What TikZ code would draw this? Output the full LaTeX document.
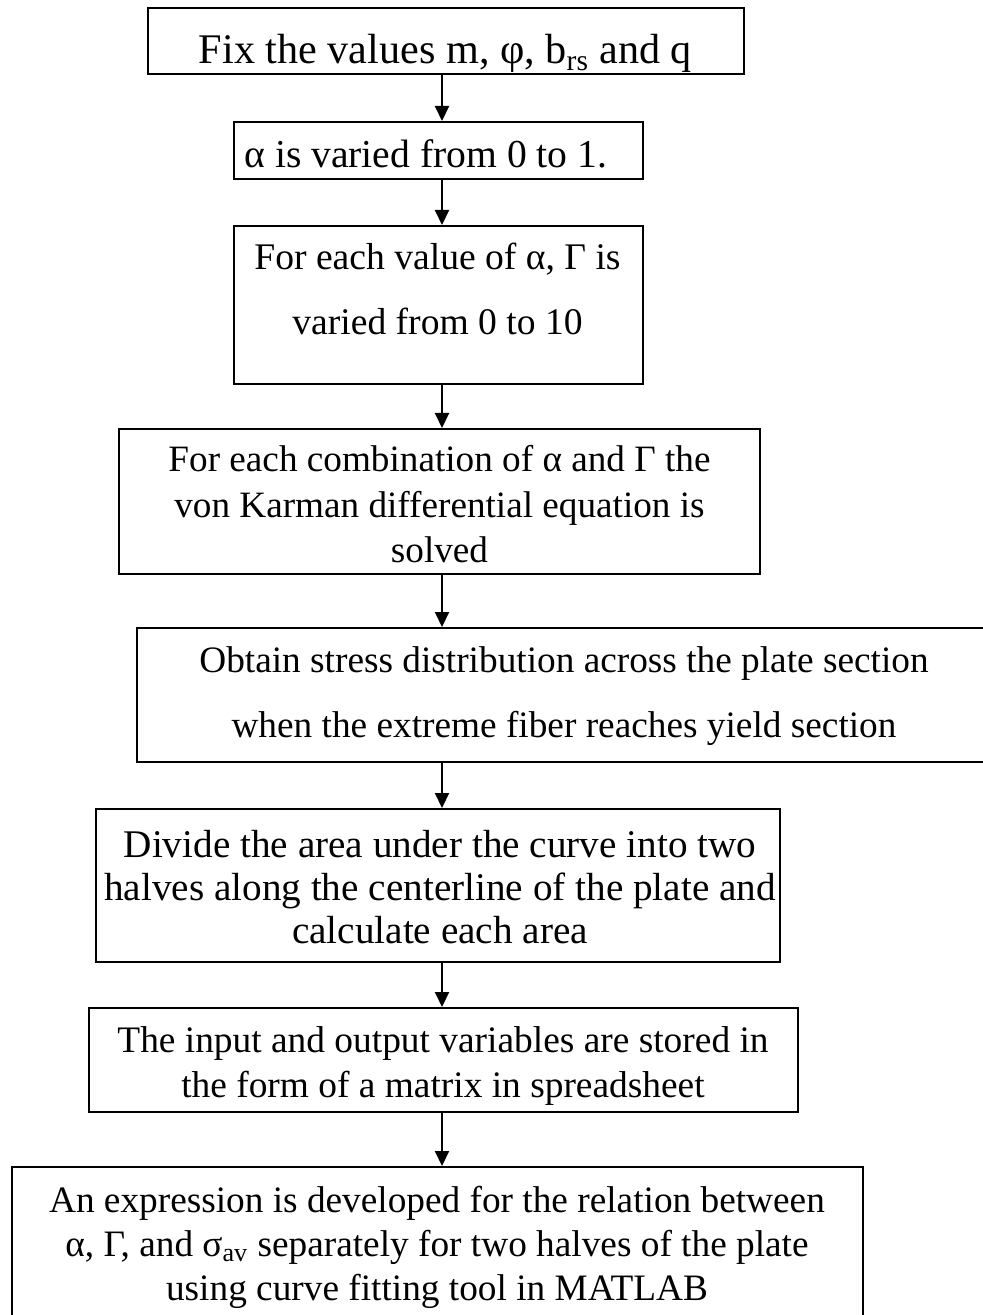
\documentclass[tikz,border=0pt]{standalone}
\usepackage{fontspec}
\setmainfont{Liberation Serif}
\usetikzlibrary{arrows.meta}
\begin{document}
\begin{tikzpicture}[x=0.5pt,y=-0.5pt,box/.style n args={2}{draw,rectangle,line width=1pt,inner sep=0pt,minimum width=#1,minimum height=#2},txt/.style n args={2}{inner sep=0pt,text width=470pt,align=flush center,anchor=base,font=\fontsize{#1}{#2}\selectfont},arr/.style={line width=1pt,-{Triangle[length=7.5pt,width=7pt]}}]
\useasboundingbox (0,0) rectangle (982,1315);
\coordinate (spine) at (442,0);
% boxes
\node[box={298pt}{33pt}] (b1) at (446,41) {};
\node[box={204.5pt}{28.5pt}] (b2) at (438.5,150.5) {};
\node[box={204.5pt}{79pt}] (b3) at (438.5,305) {};
\node[box={320.5pt}{72.5pt}] (b4) at (439.5,501.5) {};
\node[box={427.5pt}{67pt}] (b5) at (564.5,695) {};
\node[box={342pt}{76.5pt}] (b6) at (438,885.5) {};
\node[box={354.5pt}{52pt}] (b7) at (443.5,1060) {};
\node[box={425.5pt}{86.5pt}] (b8) at (437.5,1253.5) {};
% texts
\node[txt={21.1pt}{25pt}] (t1) at (445.5,64) {Fix the values m, φ, b\textsubscript{rs} and q};
\node[inner sep=0pt,anchor=base west,font=\fontsize{19.8pt}{22pt}\selectfont] (t2) at (244,168) {α is varied from 0 to 1.};
\node[txt={18.8pt}{32.5pt}] (t3) at (437.5,270) {For each value of α, Γ is\\varied from 0 to 10};
\node[txt={18.6pt}{22.5pt}] (t4) at (439.5,472) {For each combination of α and Γ the\\von Karman differential equation is\\solved};
\node[txt={18.65pt}{32.5pt}] (t5) at (564,672) {Obtain stress distribution across the plate section\\when the extreme fiber reaches yield section};
\node[txt={19.6pt}{21.5pt}] (t6) at (440,857) {Divide the area under the curve into two\\halves along the centerline of the plate and\\calculate each area};
\node[txt={18.7pt}{22.5pt}] (t7) at (443,1052) {The input and output variables are stored in\\the form of a matrix in spreadsheet};
\node[txt={18.65pt}{22pt}] (t8) at (437,1212) {An expression is developed for the relation between\\α, Γ, and σ\textsubscript{av} separately for two halves of the plate\\using curve fitting tool in MATLAB};
% connectors
\draw[arr] (b1.south -| spine) -- (b2.north -| spine);
\draw[arr] (b2.south -| spine) -- (b3.north -| spine);
\draw[arr] (b3.south -| spine) -- (b4.north -| spine);
\draw[arr] (b4.south -| spine) -- (b5.north -| spine);
\draw[arr] (b5.south -| spine) -- (b6.north -| spine);
\draw[arr] (b6.south -| spine) -- (b7.north -| spine);
\draw[arr] (b7.south -| spine) -- (b8.north -| spine);
\end{tikzpicture}
\end{document}
